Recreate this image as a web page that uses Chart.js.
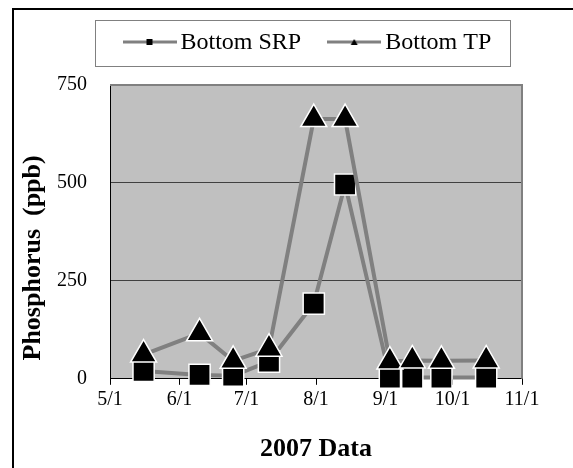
<!DOCTYPE html>
<html>
<head>
<meta charset="utf-8">
<script src="https://cdn.jsdelivr.net/npm/chart.js@4.4.0/dist/chart.umd.min.js"></script>
<style>
  body { margin: 0; background: #fff; }
  #wrap { width: 573px; height: 468px; }
</style>
</head>
<body>
<div id="wrap"><canvas id="mycanvas" width="573" height="468"></canvas></div>
<script>
// sample dates and values (ppb)
var sampleDates = ['2007-05-16', '2007-06-10', '2007-06-25', '2007-07-11', '2007-07-31',
                   '2007-08-14', '2007-09-03', '2007-09-13', '2007-09-26', '2007-10-16'];
var bottomSRP = [20, 10, 8, 44, 192, 496, 3, 3, 3, 3];
var bottomTP  = [62, 116, 46, 77, 663, 663, 44, 47, 46, 47];

var tickDates  = ['2007-05-01', '2007-06-01', '2007-07-01', '2007-08-01', '2007-09-01', '2007-10-01', '2007-11-01'];
var tickLabels = ['5/1', '6/1', '7/1', '8/1', '9/1', '10/1', '11/1'];
var yTicks = [0, 250, 500, 750];

var serif = "'Liberation Serif', 'Times New Roman', serif";

function dayNum(s) {
  var p = s.split('-');
  return Date.UTC(+p[0], +p[1] - 1, +p[2]) / 86400000;
}

function toPoints(values) {
  var pts = [];
  for (var i in values) {
    pts.push({ x: dayNum(sampleDates[i]), y: values[i] });
  }
  return pts;
}

// little line+marker picture for the legend
function legendIcon(style) {
  var c = document.createElement('canvas');
  c.width = 54; c.height = 12;
  var g = c.getContext('2d');
  g.strokeStyle = '#808080';
  g.lineWidth = 3;
  g.beginPath(); g.moveTo(0, 6); g.lineTo(54, 6); g.stroke();
  g.fillStyle = '#000';
  if (style === 'rect') {
    g.fillRect(24, 3, 6, 6);
  } else {
    g.beginPath(); g.moveTo(27, 3); g.lineTo(30.5, 9); g.lineTo(23.5, 9); g.closePath(); g.fill();
  }
  return c;
}
var icons = [legendIcon('rect'), legendIcon('triangle')];

var framePlugin = {
  id: 'frame',
  beforeDraw: function(chart) {
    var ctx = chart.ctx, a = chart.chartArea;
    ctx.save();
    ctx.fillStyle = '#fff';
    ctx.fillRect(0, 0, chart.width, chart.height);
    ctx.fillStyle = '#c0c0c0';
    ctx.fillRect(a.left, a.top, a.right - a.left, a.bottom - a.top);
    ctx.restore();
  },
  beforeDatasetsDraw: function(chart) {
    var ctx = chart.ctx, a = chart.chartArea;
    ctx.save();
    ctx.strokeStyle = '#808080';
    ctx.lineWidth = 2;
    ctx.beginPath();
    ctx.moveTo(a.left, a.top); ctx.lineTo(a.right, a.top); ctx.lineTo(a.right, a.bottom);
    ctx.stroke();
    ctx.restore();
  },
  afterDraw: function(chart) {
    var ctx = chart.ctx, a = chart.chartArea;
    ctx.save();
    // outer border
    ctx.strokeStyle = '#000';
    ctx.lineWidth = 2;
    ctx.strokeRect(13, 9, 700, 600);

    // legend: box, then line+marker and label per dataset
    ctx.strokeStyle = '#808080';
    ctx.lineWidth = 1;
    ctx.strokeRect(95.5, 20.5, 415, 46);
    ctx.font = '24px ' + serif;
    ctx.fillStyle = '#000';
    ctx.textBaseline = 'middle';
    var x = 122.5, ly = 42;
    chart.data.datasets.forEach(function(ds, i) {
      ctx.drawImage(icons[i], x, ly - 6);
      x += icons[i].width + 4;
      ctx.fillText(ds.label, x, ly + 1);
      x += ctx.measureText(ds.label).width + 26;
    });

    // y axis title
    ctx.translate(33, (a.top + a.bottom) / 2 + 26);
    ctx.rotate(-Math.PI / 2);
    ctx.font = 'bold 26px ' + serif;
    ctx.textAlign = 'center';
    ctx.fillText('Phosphorus  (ppb)', 0, 0);
    ctx.restore();
  }
};

var chartdata = {
  datasets: [
    {
      label: 'Bottom SRP',
      data: toPoints(bottomSRP),
      borderColor: '#808080',
      borderWidth: 4,
      pointStyle: 'rect',
      pointRadius: 15,
      pointBackgroundColor: '#000',
      pointBorderColor: '#fff',
      pointBorderWidth: 1.5,
      tension: 0,
      clip: false,
      order: 2
    },
    {
      label: 'Bottom TP',
      data: toPoints(bottomTP),
      borderColor: '#808080',
      borderWidth: 4,
      pointStyle: 'triangle',
      pointRadius: 15,
      pointBackgroundColor: '#000',
      pointBorderColor: '#fff',
      pointBorderWidth: 1.5,
      tension: 0,
      clip: false,
      order: 1
    }
  ]
};

var ctx = document.getElementById('mycanvas');

var LineGraph = new Chart(ctx, {
  type: 'line',
  data: chartdata,
  plugins: [framePlugin],
  options: {
    responsive: false,
    animation: false,
    events: [],
    layout: { padding: { left: 48, right: 51, top: 85, bottom: 3 } },
    plugins: {
      tooltip: { enabled: false },
      legend: { display: false }
    },
    scales: {
      x: {
        type: 'linear',
        min: dayNum(tickDates[0]),
        max: dayNum(tickDates[tickDates.length - 1]),
        afterBuildTicks: function(scale) {
          scale.ticks = tickDates.map(function(d) { return { value: dayNum(d) }; });
        },
        ticks: {
          autoSkip: false,
          maxRotation: 0,
          padding: 3,
          color: '#000',
          font: { family: serif, size: 20 },
          callback: function(value, index) { return tickLabels[index]; }
        },
        grid: { drawOnChartArea: false, drawTicks: true, tickLength: 6, color: '#000' },
        border: { color: '#000', width: 1 },
        title: {
          display: true,
          text: '2007 Data',
          color: '#000',
          font: { family: serif, size: 26, weight: 'bold' },
          padding: { top: 19, bottom: 0 }
        }
      },
      y: {
        min: 0,
        max: 750,
        afterBuildTicks: function(scale) {
          scale.ticks = yTicks.map(function(v) { return { value: v }; });
        },
        afterFit: function(scale) { scale.width = 62; },
        ticks: {
          padding: 23,
          color: '#000',
          font: { family: serif, size: 20 }
        },
        grid: {
          drawTicks: false,
          lineWidth: 1,
          color: function(c) {
            var v = c.tick && c.tick.value;
            return (v > 0 && v < 750) ? '#404040' : 'rgba(0,0,0,0)';
          }
        },
        border: { color: '#000', width: 1 }
      }
    }
  }
});
</script>
</body>
</html>
